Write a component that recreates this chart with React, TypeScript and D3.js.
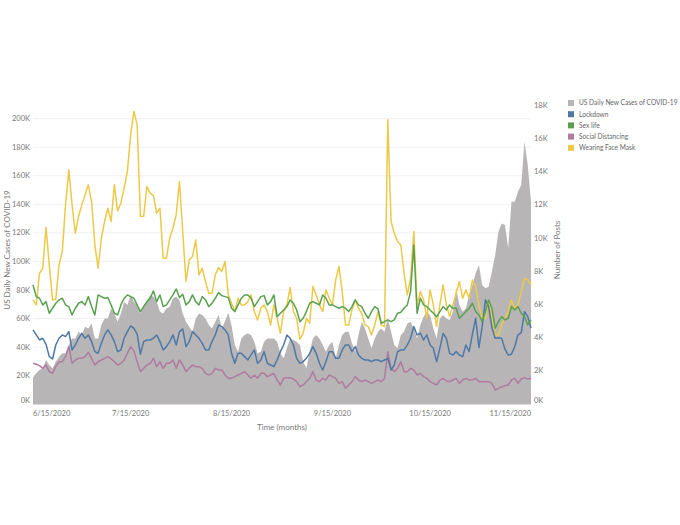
import React from 'react';
import * as d3 from 'd3';

const startDate = '2020-06-15';

// US daily new cases (thousands), one value per day from 6/15/2020
const casesK = [
  18.5, 21.5, 23.8, 25.0, 30.8, 27.3, 25.0, 29.7, 33.2, 35.5, 35.5, 41.4, 46.0, 46.0, 50.7, 48.4, 54.2, 53.0, 56.5, 46.0, 46.0, 55.4, 60.0, 60.0, 67.0, 63.5, 57.7, 63.5, 71.7, 69.4, 76.4,
  71.7, 69.4, 63.5, 69.4, 71.7, 76.4, 75.2, 71.7, 64.7, 63.5, 67.0, 68.2, 74.1, 75.2, 72.9, 63.5, 57.7, 54.2, 50.7, 60.0, 63.5, 62.4, 60.0, 55.4, 53.0, 57.7, 62.4, 53.0, 58.0, 64.0, 55.0,
  41.4, 36.7, 46.0, 48.4, 49.5, 48.4, 43.7, 35.5, 36.7, 43.7, 46.0, 46.0, 46.0, 43.7, 35.5, 32.0, 39.0, 46.0, 44.9, 43.7, 41.4, 29.7, 25.0, 36.7, 46.0, 48.4, 46.0, 41.4, 36.7, 41.4,
  43.7, 32.0, 41.4, 48.4, 50.7, 50.7, 42.5, 36.7, 48.4, 57.7, 53.0, 46.0, 39.0, 46.0, 50.7, 53.0, 50.7, 60.0, 50.7, 41.4, 39.0, 48.4, 50.7, 56.5, 57.7, 53.0, 46.0, 55.4, 61.2, 64.7, 62.0,
  53.0, 46.0, 60.0, 62.4, 60.0, 58.9, 64.7, 81.1, 69.4, 64.7, 67.1, 76.4, 83.4, 91.6, 97.4, 83.4, 81.1, 82.2, 92.8, 104.4, 120.8, 126.6, 125.5, 109.1, 141.8, 141.8, 148.8, 153.5, 183.9, 167.5, 141.8,
];

// Number of posts per day
const lockdown = [
  4458, 4157, 3855, 3956, 3594, 2851, 2711, 3554, 3956, 4157, 4057, 4358, 3253, 3554, 3956, 4257, 3956, 4157, 3755, 3153, 3052, 3654, 4157, 4458, 4157, 3755, 3153, 3253, 3956, 4358, 4700,
  4550, 4200, 3000, 3755, 3855, 3855, 3956, 4157, 3755, 3253, 3454, 3755, 4157, 3554, 4358, 4518, 3454, 3755, 4358, 4157, 3956, 3654, 3253, 3253, 3755, 4157, 4759, 4659, 4458, 4157, 3052,
  2450, 3052, 3052, 2851, 2651, 2952, 3253, 2450, 2651, 3153, 2450, 2349, 2249, 2651, 3153, 3554, 4157, 3956, 3554, 2751, 2450, 2550, 2751, 3052, 3454, 3052, 2450, 2048, 2550, 3153,
  3153, 2751, 2751, 3253, 3554, 3554, 3153, 3454, 2952, 2751, 2651, 2651, 2550, 2651, 2651, 2550, 2651, 2751, 2048, 2349, 3153, 3253, 3253, 3554, 3956, 4659, 4157, 4257, 3855, 4157, 3554,
  3353, 2550, 3353, 4257, 3956, 3052, 2952, 3153, 2952, 2851, 3554, 3153, 4200, 5160, 3400, 4660, 6270, 5860, 4600, 3960, 3990, 3950, 3300, 2950, 3000, 3450, 4160, 4300, 5560, 5260, 4560,
];

const sexLife = [
  7169, 6466, 6365, 5964, 6164, 5462, 5763, 6064, 6265, 6365, 5964, 5864, 5361, 5763, 6064, 6164, 5964, 6466, 5864, 5361, 6566, 6466, 6365, 6405, 5964, 5462, 5361, 5964, 6365, 6566, 6466,
  6365, 5964, 5563, 5864, 6164, 6365, 6807, 6164, 6566, 5864, 5964, 6265, 6566, 6928, 6405, 6606, 5964, 6164, 6566, 6164, 5964, 6466, 6265, 5864, 6064, 6365, 6707, 6526, 6466, 6405, 5760,
  5563, 5964, 6365, 6566, 6566, 6365, 5864, 6164, 6466, 6526, 5964, 6164, 6566, 5261, 5462, 5663, 5864, 6265, 6064, 5663, 4960, 5161, 5563, 6064, 6164, 6064, 5964, 6566, 6365, 5964,
  5964, 5864, 5763, 5864, 5763, 5563, 5864, 6265, 5964, 5864, 5462, 5161, 5563, 5864, 5723, 4860, 4960, 5060, 4960, 5060, 5462, 5522, 5763, 5964, 6767, 9578, 5462, 6365, 5964, 5864, 5663,
  5462, 5261, 5563, 5864, 5663, 5964, 5763, 5763, 5161, 5361, 5563, 5763, 6064, 5563, 5361, 4960, 5563, 6265, 5763, 4558, 4960, 5261, 5060, 5161, 5864, 5663, 5864, 5462, 5261, 4759, 5060,
];

const socialDistancing = [
  2450, 2389, 2309, 2148, 2349, 1948, 1847, 2249, 2550, 2550, 2851, 3454, 2450, 2651, 2751, 2751, 2851, 3113, 2751, 2349, 2550, 2651, 2751, 2851, 2711, 2550, 2349, 2450, 2651, 3052, 3450,
  3200, 2550, 1948, 2148, 2349, 2450, 2751, 2249, 2550, 2148, 2450, 2450, 2651, 2148, 2651, 2349, 1948, 2148, 2349, 2249, 2249, 2148, 1847, 1747, 1847, 2148, 2048, 2048, 1747, 1546, 1546,
  1647, 1747, 1847, 1948, 1747, 1546, 1747, 1546, 1847, 1847, 1647, 1747, 1847, 1446, 1145, 1546, 1587, 1587, 1506, 1345, 1044, 1145, 1345, 1546, 1948, 1446, 1345, 1546, 1446, 1747,
  1647, 1546, 1245, 1345, 944, 1145, 1345, 1647, 1446, 1345, 1446, 1345, 1245, 1345, 1446, 1345, 1546, 3153, 2148, 1948, 2148, 2550, 1948, 1948, 2148, 2048, 1747, 1847, 1647, 1546, 1345,
  1245, 1145, 1446, 1546, 1386, 1345, 1446, 1546, 1245, 1446, 1546, 1446, 1446, 1546, 1345, 1345, 1345, 1345, 1245, 843, 944, 1044, 1104, 1145, 1446, 1546, 1245, 1506, 1587, 1506, 1546,
];

const faceMask = [
  6265, 5964, 7873, 8173, 10643, 8373, 6265, 6305, 8373, 9176, 11988, 14096, 11988, 10281, 11285, 11988, 12590, 13193, 12189, 9578, 8173, 9979, 10984, 11787, 10984, 13193, 11626, 12088, 12992, 13996, 16205,
  17610, 16807, 11285, 11300, 13092, 12691, 12550, 11486, 11787, 8774, 8774, 9979, 10582, 11386, 13394, 10382, 7370, 8675, 8876, 9879, 7771, 8173, 7370, 6666, 6666, 7771, 8213, 7972, 8574, 6566, 6064,
  5563, 6365, 5964, 5964, 6164, 6566, 5563, 5060, 5763, 5964, 5563, 4759, 5964, 5161, 4257, 5563, 5964, 7008, 5563, 5161, 3900, 4250, 5161, 4860, 7068, 6566, 5964, 5563, 6867, 6365,
  5964, 7470, 8273, 6767, 4759, 4759, 5663, 6265, 5763, 5462, 4759, 4659, 4157, 4759, 5563, 4759, 4659, 17108, 10984, 10281, 9779, 9578, 7873, 6566, 7570, 10382, 5964, 6767, 6265, 5161, 6867,
  5964, 4659, 5964, 7169, 5964, 5261, 5964, 6666, 7370, 6365, 6867, 6365, 7470, 7068, 5964, 5161, 5161, 6265, 5161, 4157, 4157, 4759, 5161, 5563, 6265, 5763, 5964, 6767, 7570, 7470, 7169,
];

const seriesNames = ['US Daily New Cases of COVID-19', 'Lockdown', 'Sex life', 'Social Distancing', 'Wearing Face Mask'];
const seriesColors = ['#b7b5b6', '#4e79a7', '#59a14f', '#b07aa1', '#edc948'];

const xTickDates = ['2020-06-15', '2020-07-15', '2020-08-15', '2020-09-15', '2020-10-15', '2020-11-15'];
const xTickLabels = ['6/15/2020', '7/15/2020', '8/15/2020', '9/15/2020', '10/15/2020', '11/15/2020'];
const leftTicks = [0, 20000, 40000, 60000, 80000, 100000, 120000, 140000, 160000, 180000, 200000];
const rightTicks = [0, 2000, 4000, 6000, 8000, 10000, 12000, 14000, 16000, 18000];

const W = 680;
const H = 525;
const FONT = 'Lato, "Open Sans", sans-serif';

export default function App() {
  const parse = d3.timeParse('%Y-%m-%d');
  const start = parse(startDate) as Date;
  const dates = casesK.map((_, i) => d3.timeDay.offset(start, i));

  const x = d3.scaleTime().domain([dates[0], dates[dates.length - 1]]).range([33, 531]);
  const yL = d3.scaleLinear().domain([0, 209600]).range([404, 105]);
  const yR = d3.scaleLinear().domain([0, 18000]).range([404, 105]);

  const area = d3
    .area<number>()
    .x((_, i) => x(dates[i]))
    .y0(yL(0))
    .y1((d) => yL(d * 1000));

  const line = d3
    .line<number>()
    .x((_, i) => x(dates[i]))
    .y((d) => yR(d));

  const lineSeries = [
    { data: faceMask, color: seriesColors[4] },
    { data: socialDistancing, color: seriesColors[3] },
    { data: lockdown, color: seriesColors[1] },
    { data: sexLife, color: seriesColors[2] },
  ];

  const fmtK = (v: number) => `${Math.round(v / 1000)}K`;

  return (
    <svg
      width={W}
      height={H}
      style={{ position: 'absolute', left: 0, top: 0, background: '#fff' }}
      fontFamily={FONT}
    >
      {leftTicks.slice(1).map((t) => (
        <line key={'g' + t} x1={33} x2={531} y1={yL(t)} y2={yL(t)} stroke="#f0f0f0" strokeWidth={1} />
      ))}

      <path d={area(casesK) || ''} fill={seriesColors[0]} />

      {lineSeries.map((s, i) => (
        <path
          key={i}
          d={line(s.data) || ''}
          fill="none"
          stroke={s.color}
          strokeWidth={1.5}
          strokeLinejoin="round"
        />
      ))}

      <line x1={33} x2={531} y1={404.5} y2={404.5} stroke="#dcdcdc" strokeWidth={1} />

      {leftTicks.map((t) => (
        <text
          key={'l' + t}
          x={30}
          y={Math.min(yL(t), 400)}
          dy="0.35em"
          textAnchor="end"
          fontSize={7.5}
          fill="#777"
        >
          {fmtK(t)}
        </text>
      ))}

      {rightTicks.map((t) => (
        <text
          key={'r' + t}
          x={534}
          y={Math.min(yR(t), 400)}
          dy="0.35em"
          textAnchor="start"
          fontSize={7.5}
          fill="#777"
        >
          {fmtK(t)}
        </text>
      ))}

      {xTickDates.map((ds, i) => {
        const px = x(parse(ds) as Date);
        const half = 16;
        let anchor: 'start' | 'middle' | 'end' = 'middle';
        let tx = px;
        if (px - half < 33) {
          anchor = 'start';
          tx = 33;
        } else if (px + half > 531) {
          anchor = 'end';
          tx = 531;
        }
        return (
          <text key={ds} x={tx} y={413} dy="0.35em" textAnchor={anchor} fontSize={7.5} fill="#777">
            {xTickLabels[i]}
          </text>
        );
      })}

      <text x={282} y={427} dy="0.35em" textAnchor="middle" fontSize={8} fill="#777">
        Time (months)
      </text>
      <text
        transform="translate(7,250) rotate(-90)"
        textAnchor="middle"
        dy="0.35em"
        fontSize={8}
        fill="#777"
      >
        US Daily New Cases of COVID-19
      </text>
      <text
        transform="translate(557,250) rotate(-90)"
        textAnchor="middle"
        dy="0.35em"
        fontSize={8}
        fill="#777"
      >
        Number of Posts
      </text>

      {seriesNames.map((n, i) => {
        const cy = 103 + i * 11.2;
        return (
          <g key={n}>
            <rect x={568} y={cy - 3} width={6} height={6} fill={seriesColors[i]} />
            <text x={579} y={cy} dy="0.35em" fontSize={6.6} fill="#666">
              {n}
            </text>
          </g>
        );
      })}
    </svg>
  );
}
